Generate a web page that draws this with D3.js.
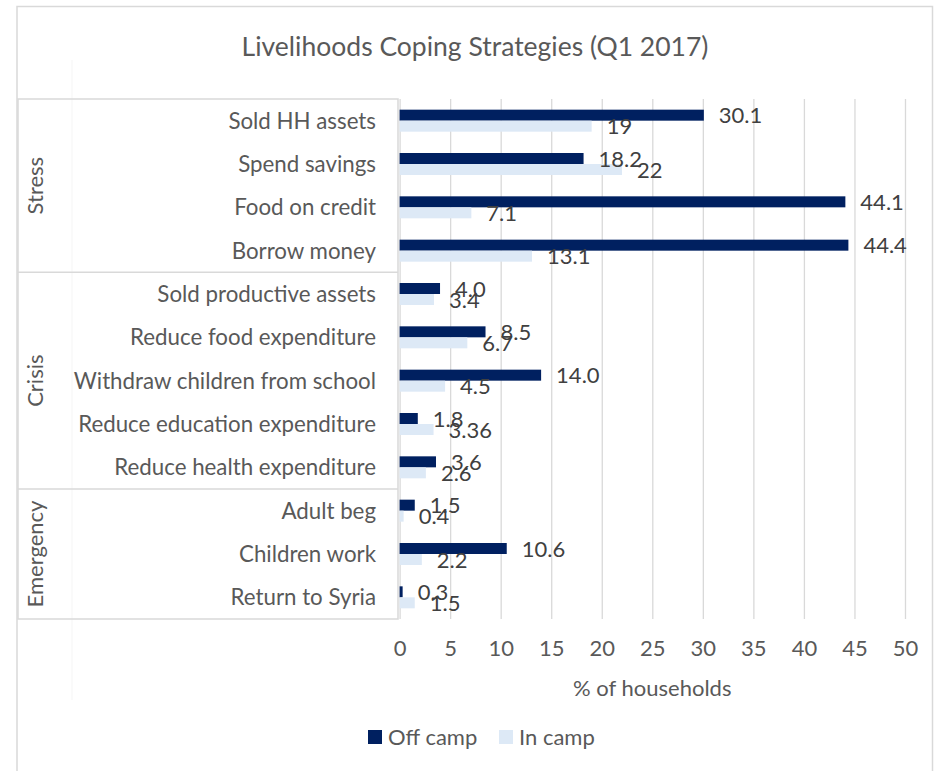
<!DOCTYPE html>
<html><head><meta charset="utf-8">
<script src="https://cdn.jsdelivr.net/npm/d3@7"></script>
<style>body{margin:0;background:#fff}svg{display:block}text{font-family:Lato,"Noto Sans",sans-serif}</style>
</head><body><svg id="c" width="937" height="771"></svg>
<script>
const title = "Livelihoods Coping Strategies (Q1 2017)";
const categories = ["Sold HH assets","Spend savings","Food on credit","Borrow money","Sold productive assets","Reduce food expenditure","Withdraw children from school","Reduce education expenditure","Reduce health expenditure","Adult beg","Children work","Return to Syria"];
const groupNames = ["Stress","Crisis","Emergency"];
const groupSizes = [4,5,3];
const offCamp = [30.1,18.2,44.1,44.4,4.0,8.5,14.0,1.8,3.6,1.5,10.6,0.3];
const inCamp = [19,22,7.1,13.1,3.4,6.7,4.5,3.36,2.6,0.4,2.2,1.5];
const offLabels = ["30.1","18.2","44.1","44.4","4.0","8.5","14.0","1.8","3.6","1.5","10.6","0.3"];
const inLabels = ["19","22","7.1","13.1","3.4","6.7","4.5","3.36","2.6","0.4","2.2","1.5"];
const xTicks = [0,5,10,15,20,25,30,35,40,45,50];
const seriesNames = ["Off camp","In camp"];
const colors = ["#002060","#dde9f6"];

(function(){
const svg = d3.select("#c");
const grid = "#d9d9d9", txt = "#595959", lab = "#404040";
const pL = 399.6, pR = 905, pT = 99, pB = 619;
const x = d3.scaleLinear().domain([0,50]).range([pL,pR]);
const y = d3.scaleBand().domain(categories).range([pT,pB]);
const bh = 11;

svg.append("rect").attr("x",17).attr("y",6.5).attr("width",915.5).attr("height",800)
  .attr("fill","none").attr("stroke",grid).attr("stroke-width",1.5);

svg.append("text").attr("x",475).attr("y",56).attr("text-anchor","middle")
  .attr("font-size",26.5).attr("fill",txt).text(title);

const xAxis = d3.axisBottom(x).tickValues(xTicks).tickSize(-(pB-pT)).tickFormat(d3.format("d"));
const ga = svg.append("g").attr("transform",`translate(0,${pB})`).call(xAxis);
ga.select(".domain").remove();
ga.selectAll(".tick line").attr("stroke",grid).attr("stroke-width",1.3);
ga.selectAll(".tick text").attr("font-size",22).attr("fill",txt).attr("y",37).attr("dy",0)
  .style("font-family","Lato");

svg.append("text").attr("x",(pL+pR)/2).attr("y",696).attr("text-anchor","middle")
  .attr("font-size",22).attr("fill",txt).text("% of households");

const boxL = 18, boxR = 398;
svg.append("line").attr("x1",72).attr("x2",72).attr("y1",60).attr("y2",700).attr("stroke","#f5f5f5").attr("stroke-width",1);
svg.append("rect").attr("x",boxL).attr("y",pT).attr("width",boxR-boxL).attr("height",pB-pT)
  .attr("fill","none").attr("stroke",grid).attr("stroke-width",1.5);
let idx = 0;
groupNames.forEach((g,i)=>{
  const y0 = y(categories[idx]);
  const y1 = y(categories[idx+groupSizes[i]-1]) + y.step();
  if(i>0) svg.append("line").attr("x1",boxL).attr("x2",boxR).attr("y1",y0).attr("y2",y0).attr("stroke",grid).attr("stroke-width",1.5);
  svg.append("text").attr("transform",`translate(43,${(y0+y1)/2}) rotate(-90)`).attr("text-anchor","middle")
    .attr("font-size",22).attr("fill",txt).text(g);
  idx += groupSizes[i];
});

svg.append("g").selectAll("text").data(categories).join("text")
  .attr("x",376).attr("y",d=>y(d)+y.bandwidth()/2+8).attr("text-anchor","end")
  .attr("font-size",22.3).attr("fill",txt).text(d=>d);

const series = [offCamp, inCamp];
const labels = [offLabels, inLabels];
series.forEach((vals,si)=>{
  svg.append("g").selectAll("rect").data(vals).join("rect")
    .attr("x",x(0)).attr("y",(d,i)=>y(categories[i])+y.bandwidth()/2 - bh + si*bh)
    .attr("width",d=>x(d)-x(0)).attr("height",bh).attr("fill",colors[si]);
});
series.forEach((vals,si)=>{
  svg.append("g").selectAll("text").data(vals).join("text")
    .attr("x",d=>x(d)+15).attr("y",(d,i)=>y(categories[i])+y.bandwidth()/2 - bh/2 + si*bh + 8)
    .attr("font-size",22).attr("fill",lab).text((d,i)=>labels[si][i]);
});

const lx = [368, 499];
seriesNames.forEach((n,i)=>{
  svg.append("rect").attr("x",lx[i]).attr("y",730).attr("width",14).attr("height",14).attr("fill",colors[i]);
  svg.append("text").attr("x",lx[i]+20).attr("y",745).attr("font-size",22).attr("fill",txt).text(n);
});
})();
</script></body></html>
